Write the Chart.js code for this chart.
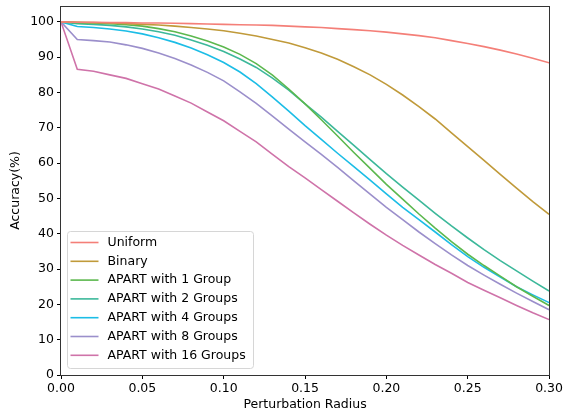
<!DOCTYPE html>
<html>
<head>
<meta charset="utf-8">
<script src="https://cdn.jsdelivr.net/npm/chart.js@4"></script>
<style>
  html, body { margin: 0; padding: 0; background: #fff; }
  #wrap { width: 565px; height: 412px; }
</style>
</head>
<body>
<div id="wrap"><canvas id="chart"></canvas></div>
<script>
// perturbation radius, 0.00 .. 0.30 in 0.01 steps
const radius = [0, 0.01, 0.02, 0.03, 0.04, 0.05, 0.06, 0.07, 0.08, 0.09, 0.10,
    0.11, 0.12, 0.13, 0.14, 0.15, 0.16, 0.17, 0.18, 0.19, 0.20,
    0.21, 0.22, 0.23, 0.24, 0.25, 0.26, 0.27, 0.28, 0.29, 0.30];

const seriesNames = ['Uniform', 'Binary', 'APART with 1 Group', 'APART with 2 Groups',
    'APART with 4 Groups', 'APART with 8 Groups', 'APART with 16 Groups'];

const uniform = [100, 99.9, 99.9, 99.8, 99.8, 99.7, 99.7, 99.6, 99.5, 99.4, 99.3,
    99.2, 99.1, 99.0, 98.8, 98.6, 98.4, 98.1, 97.8, 97.5, 97.1,
    96.6, 96.1, 95.5, 94.7, 93.9, 93.0, 92.0, 90.9, 89.7, 88.4];
const binary = [100, 99.9, 99.8, 99.7, 99.5, 99.3, 99.1, 98.8, 98.4, 98.0, 97.5,
    96.8, 96.0, 95.0, 94.0, 92.7, 91.2, 89.4, 87.3, 85.0, 82.3,
    79.3, 76.0, 72.5, 68.6, 64.7, 60.8, 56.8, 52.9, 49.1, 45.5];
const apart1 = [100, 99.8, 99.7, 99.5, 99.2, 98.8, 98.1, 97.2, 96.0, 94.6, 92.9,
    90.8, 88.2, 84.9, 81.0, 76.8, 72.3, 67.7, 63.0, 58.5, 54.0,
    49.8, 45.6, 41.6, 37.8, 34.2, 31.0, 28.0, 25.0, 22.3, 19.7];
const apart2 = [100, 99.5, 99.3, 99.0, 98.6, 98.0, 97.2, 96.2, 94.9, 93.4, 91.6,
    89.5, 87.1, 84.1, 80.7, 76.8, 73.0, 69.0, 65.0, 61.0, 57.0,
    53.2, 49.5, 45.8, 42.2, 38.8, 35.5, 32.4, 29.5, 26.6, 23.8];
const apart4 = [100, 98.7, 98.4, 98.0, 97.4, 96.6, 95.5, 94.2, 92.6, 90.7, 88.5,
    85.8, 82.5, 78.7, 74.7, 70.6, 66.7, 62.8, 59.0, 55.2, 51.3,
    47.5, 44.0, 40.5, 36.9, 33.5, 30.5, 27.7, 25.0, 22.7, 20.5];
const apart8 = [100, 95.0, 94.7, 94.3, 93.5, 92.5, 91.2, 89.6, 87.8, 85.7, 83.3,
    80.2, 76.9, 73.3, 69.6, 66.0, 62.5, 58.8, 55.0, 51.2, 47.5,
    44.0, 40.5, 37.2, 34.0, 31.0, 28.3, 25.7, 23.2, 20.8, 18.5];
const apart16 = [100, 86.6, 86.0, 85.0, 84.0, 82.5, 81.0, 79.0, 77.0, 74.5, 72.0,
    69.0, 66.0, 62.5, 59.0, 55.8, 52.5, 49.2, 45.9, 42.7, 39.6,
    36.7, 34.0, 31.3, 28.8, 26.2, 24.0, 21.9, 19.7, 17.6, 15.7];

const seriesValues = [uniform, binary, apart1, apart2, apart4, apart8, apart16];
const seriesColors = ['#f47f78', '#c09a3a', '#5cb84e', '#3cb89a', '#1cbde6', '#9b8fcb', '#cf73a9'];

const xTicks = [0, 0.05, 0.10, 0.15, 0.20, 0.25, 0.30];
const yTicks = [0, 10, 20, 30, 40, 50, 60, 70, 80, 90, 100];

const FONT = '"DejaVu Sans", sans-serif';
const FSIZE = 12.5;

// frame on all four sides, like matplotlib spines
const spines = {
    id: 'spines',
    afterDatasetsDraw(chart) {
        const a = chart.chartArea, ctx = chart.ctx;
        ctx.save();
        ctx.strokeStyle = '#333';
        ctx.lineWidth = 1;
        ctx.strokeRect(Math.round(a.left) - 0.5, Math.round(a.top) + 0.5,
            Math.round(a.right - a.left) + 1, Math.round(a.bottom - a.top));
        ctx.restore();
    }
};

// legend box inside the plot, lower left
const insideLegend = {
    id: 'insideLegend',
    afterDraw(chart) {
        const a = chart.chartArea, ctx = chart.ctx;
        const x0 = a.left + 6.5, y1 = a.bottom - 6.5;
        const rowH = 18.8, w = 186, h = 137;
        const y0 = y1 - h;
        ctx.save();
        ctx.beginPath();
        ctx.roundRect(x0, y0, w, h, 3);
        ctx.fillStyle = 'rgba(255,255,255,0.8)';
        ctx.fill();
        ctx.strokeStyle = '#d6d6d6';
        ctx.lineWidth = 1;
        ctx.stroke();
        ctx.font = FSIZE + 'px ' + FONT;
        ctx.textBaseline = 'middle';
        chart.data.datasets.forEach((ds, i) => {
            const cy = y0 + 11 + i * rowH;
            ctx.strokeStyle = ds.borderColor;
            ctx.lineWidth = 1.6;
            ctx.beginPath();
            ctx.moveTo(x0 + 3, cy);
            ctx.lineTo(x0 + 31, cy);
            ctx.stroke();
            ctx.fillStyle = '#000';
            ctx.fillText(ds.label, x0 + 40, cy);
        });
        ctx.restore();
    }
};

new Chart(document.getElementById('chart'), {
    type: 'line',
    data: {
        datasets: seriesNames.map((name, i) => ({
            label: name,
            data: radius.map((r, j) => ({ x: r, y: seriesValues[i][j] })),
            borderColor: seriesColors[i],
            backgroundColor: seriesColors[i],
            borderWidth: 1.6,
            pointRadius: 0,
            tension: 0,
            fill: false
        }))
    },
    options: {
        responsive: true,
        maintainAspectRatio: false,
        animation: false,
        layout: { padding: { left: 0, right: 15, top: 6, bottom: 0 } },
        plugins: { legend: { display: false }, tooltip: { enabled: false } },
        scales: {
            x: {
                type: 'linear',
                min: 0, max: 0.3,
                afterBuildTicks: (axis) => { axis.ticks = xTicks.map(v => ({ value: v })); },
                afterFit: (axis) => { axis.height = 37; },
                border: { display: false },
                grid: { drawOnChartArea: false, drawTicks: true, tickLength: 4, color: '#000' },
                ticks: {
                    color: '#000', padding: 2, maxRotation: 0,
                    font: { family: FONT, size: FSIZE },
                    callback: (v) => Number(v).toFixed(2)
                },
                title: {
                    display: true, text: 'Perturbation Radius', color: '#000',
                    font: { family: FONT, size: FSIZE }, padding: { top: 1, bottom: 0 }
                }
            },
            y: {
                min: 0, max: 104.5,
                afterBuildTicks: (axis) => { axis.ticks = yTicks.map(v => ({ value: v })); },
                afterFit: (axis) => { axis.width = 61; axis.paddingTop = 0; axis.paddingBottom = 0; },
                border: { display: false },
                grid: { drawOnChartArea: false, drawTicks: true, tickLength: 4, color: '#000' },
                ticks: {
                    color: '#000', padding: 3,
                    font: { family: FONT, size: FSIZE }
                },
                title: {
                    display: true, text: 'Accuracy(%)', color: '#000',
                    font: { family: FONT, size: FSIZE }, padding: { top: 8, bottom: 0 }
                }
            }
        }
    },
    plugins: [spines, insideLegend]
});
</script>
</body>
</html>
